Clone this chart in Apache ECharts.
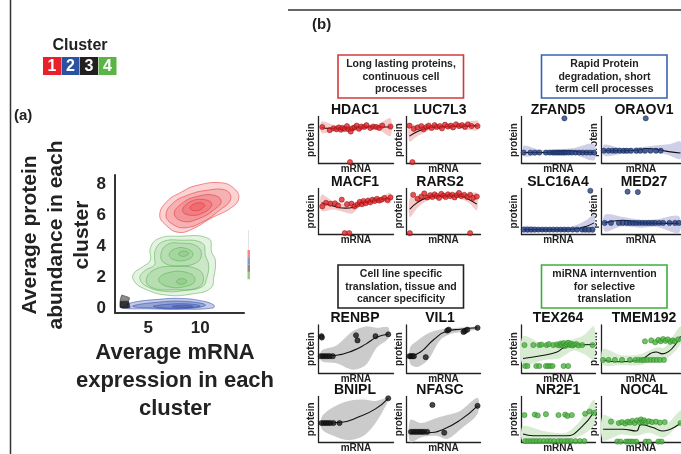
<!DOCTYPE html>
<html>
<head>
<meta charset="utf-8">
<script src="https://cdn.jsdelivr.net/npm/echarts@6.0.0/dist/echarts.min.js"></script>
<style>
  html, body { margin: 0; padding: 0; background: #fff; }
  #chart { width: 681px; height: 454px; }
</style>
</head>
<body>
<div id="chart"></div>
<script>
// ---------- panel (a): density contours, rings from outer to inner ----------
const clusterNames = ['1', '2', '3', '4']
const aTicksY = [0, 2, 4, 6, 8]
const aTicksX = [5, 10]

const redRings = [
  [[6.1,6.0],[6.8,6.9],[8.2,7.5],[9.5,7.9],[12.0,8.1],[13.3,7.7],[13.7,7.1],[13.0,6.5],[11.0,5.8],[9.2,5.1],[7.9,4.9],[6.8,5.3]],
  [[6.7,6.0],[7.4,6.8],[8.8,7.3],[10.5,7.6],[12.5,7.6],[12.9,7.0],[11.8,6.3],[10.3,5.6],[8.6,5.2],[7.4,5.4]],
  [[7.5,6.1],[8.3,6.8],[9.6,7.2],[11.3,7.3],[12.0,6.9],[11.2,6.3],[9.9,5.8],[8.4,5.6]],
  [[8.3,6.3],[9.1,6.9],[10.5,7.0],[11.1,6.7],[10.4,6.2],[9.1,6.0]],
  [[9.0,6.5],[9.7,6.8],[10.4,6.7],[10.1,6.4],[9.4,6.3]]
]
const greenRings = [
  [[5.2,3.9],[6.0,4.5],[7.8,4.65],[10.8,4.5],[11.1,3.6],[11.45,3.1],[11.3,2.0],[11.0,1.3],[9.4,0.95],[6.8,0.85],[4.5,1.3],[3.6,1.8],[3.6,2.25],[4.5,2.7],[5.2,3.1]],
  [[5.7,3.8],[6.4,4.3],[8.0,4.4],[10.2,4.2],[10.5,3.4],[10.8,2.8],[10.6,1.9],[10.2,1.4],[8.5,1.15],[6.5,1.1],[4.9,1.4],[4.2,1.9],[4.6,2.4],[5.6,2.8],[5.6,3.2]],
  [[6.2,3.4],[6.8,4.1],[8.2,4.2],[9.7,4.0],[10.1,3.4],[9.5,2.9],[8.0,2.75],[6.6,2.9]],
  [[4.8,1.8],[5.6,2.5],[7.5,2.7],[9.8,2.5],[10.3,1.8],[9.6,1.3],[7.5,1.2],[5.5,1.3]],
  [[7.0,3.45],[7.6,3.85],[8.7,3.85],[9.3,3.5],[8.8,3.15],[7.6,3.1]],
  [[6.0,1.85],[6.9,2.3],[8.8,2.3],[9.5,1.85],[8.8,1.45],[6.9,1.4]],
  [[7.9,3.5],[8.4,3.7],[8.9,3.55],[8.4,3.35]],
  [[7.7,1.72],[8.2,1.92],[8.7,1.75],[8.2,1.55]]
]
const blueRings = [
  [[2.5,0.1],[3.5,0.38],[6,0.58],[8,0.64],[10,0.5],[11.3,0.22],[11.2,0.02],[8,-0.06],[5,-0.03],[2.5,0.0]],
  [[3.5,0.15],[6,0.4],[8.5,0.45],[10.5,0.22],[9,0.0],[5,0.03]],
  [[5.5,0.15],[8.3,0.3],[10,0.15],[8.5,0.03],[6,0.05]],
  [[7.3,0.12],[8.5,0.2],[9.3,0.12],[8.5,0.06]]
]
const blackRings = [
  [[2.3,0.05],[2.3,0.5],[2.45,0.85],[3.2,0.68],[3.1,0.45],[3.25,0.05]],
  [[2.33,0.06],[2.33,0.45],[3.08,0.45],[3.12,0.06]],
  [[2.36,0.08],[2.36,0.38],[3.02,0.38],[3.05,0.08]]
]

// ---------- panel (b): group captions and gene panels ----------
const groupTexts = [
  'Long lasting proteins,\ncontinuous cell\nprocesses',
  'Rapid Protein\ndegradation, short\nterm cell processes',
  'Cell line specific\ntranslation, tissue and\ncancer specificity',
  'miRNA internvention\nfor selective\ntranslation'
]

// points [mRNA, protein], fit [x, y], band [x, low, high]  (0..10 units)
const hdac1Pts = [[0.5,8.0],[1.5,7.3],[2.0,7.7],[2.4,7.5],[2.7,7.9],[3.0,7.4],[3.2,7.8],[3.5,7.6],[3.8,8.2],[4.0,7.5],[4.3,7.0],[4.5,7.7],[4.8,7.9],[5.1,8.3],[5.4,7.6],[5.7,8.1],[6.1,8.0],[6.4,8.4],[6.9,7.8],[7.3,8.1],[7.7,8.0],[8.1,7.8],[8.5,8.3],[9.6,8.1],[4.2,0.3]]
const hdac1Fit = [[0.4,7.9],[1.5,7.7],[3,7.7],[4.3,7.5],[5.3,7.9],[6.5,8.0],[8,8.0],[9.6,8.0]]
const hdac1Band = [[0.4,6.7,9.2],[2,7.1,8.5],[4.3,7.0,8.1],[6,7.5,8.4],[8,7.4,8.7],[9.6,6.0,9.9]]

const luc7l3Pts = [[0.4,8.3],[1.0,7.6],[1.5,7.9],[2.0,8.2],[2.3,7.5],[2.7,8.0],[3.0,8.3],[3.4,7.8],[3.8,8.4],[4.1,8.0],[4.5,8.2],[4.8,7.7],[5.2,8.5],[5.6,8.1],[6.0,8.3],[6.3,7.9],[6.7,8.6],[7.1,8.2],[7.5,8.4],[7.9,8.0],[8.3,8.6],[8.8,8.2],[9.6,8.2],[0.8,0.3]]
const luc7l3Fit = [[0.4,6.0],[1.5,7.0],[2.7,7.7],[4,8.0],[6,8.1],[8,8.2],[9.6,8.3]]
const luc7l3Band = [[0.4,4.8,8.8],[1.5,6.0,8.2],[3,7.2,8.3],[5,7.7,8.5],[7,7.8,8.6],[9.6,7.3,9.4]]

const macf1Pts = [[0.5,6.3],[1.0,7.1],[1.6,6.9],[2.2,7.0],[2.6,6.5],[3.1,7.8],[3.8,6.8],[4.4,6.9],[4.8,6.3],[5.2,6.7],[5.5,7.3],[5.8,6.8],[6.0,7.5],[6.3,7.0],[6.6,7.6],[6.9,7.2],[7.2,7.8],[7.5,7.5],[7.8,8.0],[8.1,7.6],[8.4,7.8],[8.8,8.2],[9.2,7.7],[9.6,8.3],[3.5,0.3],[4.1,0.3]]
const macf1Fit = [[0.4,7.1],[1.5,6.6],[2.8,6.0],[3.6,5.9],[4.7,6.1],[5.6,6.9],[6.5,7.3],[8,7.8],[9.6,8.1]]
const macf1Band = [[0.4,5.3,8.9],[2,5.6,7.4],[3.5,5.0,6.8],[4.5,4.7,6.9],[5.5,6.2,7.6],[7,6.9,8.0],[8.5,7.3,8.5],[9.6,7.0,9.3]]

const rars2Pts = [[0.9,8.9],[1.5,8.0],[2.0,8.5],[2.4,9.2],[2.8,8.3],[3.2,8.8],[3.5,8.4],[3.8,9.0],[4.1,8.6],[4.4,8.2],[4.7,9.1],[5.0,8.7],[5.3,8.4],[5.6,9.0],[5.9,8.6],[6.2,8.9],[6.5,8.3],[6.8,8.8],[7.1,9.3],[7.4,8.6],[7.8,8.9],[8.2,8.4],[8.6,8.9],[9.0,8.2],[9.5,8.5],[0.45,0.3],[8.6,0.3]]
const rars2Fit = [[0.45,5.7],[1.5,7.2],[2.7,8.2],[4,8.6],[5.9,8.7],[7.3,8.6],[8.5,7.8],[9.5,6.8]]
const rars2Band = [[0.45,3.9,8.2],[1.5,6.0,8.5],[3,7.7,8.9],[5,8.3,9.1],[7,8.2,9.1],[8.5,7.0,9.2],[9.5,5.4,9.3]]

const zfand5Pts = [[0.3,2.4],[1.2,2.4],[1.8,2.4],[2.4,2.4],[3.3,2.4],[3.8,2.4],[4.2,2.4],[4.5,2.4],[4.8,2.4],[5.1,2.4],[5.4,2.4],[5.7,2.4],[6.0,2.4],[6.4,2.4],[6.8,2.4],[7.3,2.4],[7.8,2.4],[8.3,2.4],[8.8,2.4],[9.3,2.4],[9.8,2.4],[5.8,9.9]]
const zfand5Fit = [[0.3,2.4],[2,2.4],[4,2.45],[5.5,2.7],[6.5,2.8],[8,2.5],[9.8,2.4]]
const zfand5Band = [[0.3,1.6,3.9],[2.5,1.9,3.0],[5,2.0,3.1],[7,2.0,3.4],[9.8,0.7,4.3]]

const oraov1Pts = [[0.3,2.8],[0.9,2.8],[1.4,2.8],[1.8,2.8],[2.3,2.8],[2.8,2.8],[3.2,2.8],[3.7,2.8],[4.4,2.8],[4.9,2.8],[5.5,2.8],[6.2,2.8],[6.9,2.8],[7.5,2.8],[5.6,9.9]]
const oraov1Fit = [[0.3,2.8],[2.5,2.8],[4.5,2.9],[5.8,3.3],[7,3.1],[8.5,2.6],[10,2.3]]
const oraov1Band = [[0.3,1.7,4.1],[2.5,2.1,3.4],[5,2.2,3.6],[7,2.4,4.0],[8.5,1.8,4.2],[10,1.0,4.8]]

const slc16a4Pts = [[0.3,1.1],[0.8,1.1],[1.3,1.1],[1.8,1.1],[2.3,1.1],[2.8,1.1],[3.3,1.1],[3.8,1.1],[4.3,1.1],[4.8,1.1],[5.3,1.1],[5.8,1.1],[6.3,1.1],[6.9,1.1],[7.5,1.1],[8.2,1.1],[8.6,1.1],[9.1,1.1],[9.6,1.1],[9.3,9.8]]
const slc16a4Fit = [[0.3,1.1],[3,1.1],[6,1.1],[7.5,1.3],[8.7,1.8],[9.8,2.6]]
const slc16a4Band = [[0.3,0.4,1.9],[3,0.6,1.5],[6,0.6,1.6],[7.5,0.5,2.2],[8.7,0.4,3.2],[9.8,0.4,4.4]]

const med27Pts = [[0.4,2.6],[1.2,2.6],[2.2,2.6],[2.7,2.6],[3.2,2.6],[3.6,2.6],[4.0,2.6],[4.4,2.6],[4.8,2.6],[5.2,2.6],[5.6,2.6],[6.0,2.6],[6.4,2.6],[6.8,2.6],[7.3,2.6],[7.8,2.6],[8.6,2.6],[9.3,2.6],[9.8,2.6],[3.3,9.6],[4.6,9.5]]
const med27Fit = [[0.4,2.6],[1.5,3.0],[2.7,3.2],[4,2.9],[5,2.6],[7,2.5],[9.8,2.5]]
const med27Band = [[0.4,0.7,4.4],[2.5,1.8,4.0],[5,1.5,3.3],[7,1.7,3.4],[9.8,0.4,4.1]]

const renbpPts = [[0.4,7.9],[0.45,7.6],[0.3,3.6],[0.6,3.6],[0.9,3.6],[1.2,3.6],[1.5,3.6],[1.9,3.6],[5.0,8.1],[5.2,7.0],[7.6,7.9],[9.3,8.3]]
const renbpFit = [[0.4,3.6],[2.4,3.8],[4.6,4.8],[6.3,6.2],[7.8,7.7],[9.3,8.3]]
const renbpBand = [[0.4,2.6,4.8],[2.4,2.1,5.9],[4.6,0.7,9.0],[6.3,1.7,10],[7.8,5.5,9.7],[9.3,7.4,9.8]]

const vil1Pts = [[0.4,3.6],[0.6,3.6],[0.8,3.6],[1.0,3.6],[2.6,3.4],[5.5,9.1],[5.7,9.3],[7.7,8.8],[7.9,9.0],[8.2,9.3],[9.6,9.7]]
const vil1Fit = [[0.5,3.6],[1.9,4.5],[3.7,7.2],[5.5,9.0],[7.3,9.4],[9.6,9.7]]
const vil1Band = [[0.5,2.0,5.5],[1.5,1.3,7.0],[3,3.0,8.6],[4.5,7.0,9.3],[6,8.4,9.6],[8,8.9,9.8],[9.6,9.4,9.9]]

const bniplPts = [[0.4,4.3],[0.7,4.3],[1.0,4.3],[1.3,4.3],[1.6,4.3],[2.0,4.3],[2.8,4.3],[9.3,9.9]]
const bniplFit = [[0.45,4.3],[2.8,4.4],[5.4,5.7],[7.6,7.5],[9.3,9.9]]
const bniplBand = [[0.45,2.9,5.7],[2,1.4,7.9],[4,0.4,9.3],[6,1.4,9.6],[7.6,4.3,9.3],[9.3,9.3,10]]

const nfascPts = [[0.6,2.3],[0.9,2.3],[1.2,2.3],[1.5,2.3],[1.8,2.3],[2.1,2.3],[2.4,2.3],[2.8,2.3],[3.5,8.4],[5.1,2.1],[9.6,8.2]]
const nfascFit = [[0.5,2.1],[2.8,2.1],[5,2.9],[7.3,5.0],[9.6,8.2]]
const nfascBand = [[0.5,0,5],[2,1.1,4.3],[4,1.4,5.4],[5.5,0.7,6.1],[7.3,2.9,7.1],[9.6,6.4,10]]

const tex264Pts = [[0.4,6.0],[1.6,6.0],[2.4,6.0],[2.7,6.1],[3.4,6.0],[3.7,6.2],[4.3,6.0],[4.8,6.1],[5.1,5.9],[5.3,6.3],[5.5,6.0],[5.7,6.4],[5.9,5.8],[6.1,6.2],[6.3,6.5],[6.5,6.0],[6.7,6.3],[6.9,5.9],[7.1,6.1],[7.4,6.2],[7.7,5.9],[8.2,6.0],[9.6,6.0],
  [0.5,1.5],[0.8,1.5],[2.0,1.5],[2.4,1.5],[3.3,1.5],[3.6,1.5],[3.9,1.5],[4.2,1.5],[5.7,1.5],[6.3,1.5]]
const tex264Fit = [[0.2,3.1],[3,3.8],[4.8,4.5],[5.7,5.4],[7,5.9],[9.8,6.1]]
const tex264Band = [[0.2,1.7,7.9],[3,2.8,6.2],[5,3.1,6.9],[7,4.8,7.2],[8.5,4.0,8.2],[9.8,2.8,10]]

const tmem192Pts = [[5.5,6.8],[6.3,7.0],[6.8,6.6],[7.2,7.1],[7.5,6.8],[7.8,7.3],[8.1,6.9],[8.4,7.2],[8.7,6.7],[9.0,7.0],[9.3,6.8],[9.7,7.2],
  [0.2,2.8],[0.9,2.8],[1.7,2.8],[2.6,2.8],[3.6,2.8],[4.3,2.8],[4.7,2.8],[5.1,2.8],[5.4,2.8],[5.8,2.8],[6.2,2.8],[6.6,2.8],[7.0,2.8],[7.4,2.8],[7.9,2.8]]
const tmem192Fit = [[0.2,2.8],[2.3,2.4],[4.8,2.8],[6.9,4.5],[7.7,4.1],[10,7.9]]
const tmem192Band = [[0.2,1.7,5.2],[2.5,1.7,3.8],[5,1.7,4.1],[7,3.1,5.5],[8,2.8,5.5],[10,6.2,10]]

const nr2f1Pts = [[0.4,6.1],[1.8,6.2],[2.2,6.0],[3.3,6.3],[5.0,6.1],[5.9,6.2],[6.2,5.9],[6.8,6.1],[8.6,6.4],[9.2,6.9],[9.8,6.6],
  [0.5,0.2],[0.9,0.2],[1.3,0.2],[1.7,0.2],[2.1,0.2],[2.5,0.2],[3.0,0.2],[3.5,0.2],[3.9,0.2],[4.4,0.2],[5.0,0.2],[5.4,0.2],[5.9,0.2],[6.3,0.2],[6.7,0.2],[7.3,0.2],[7.9,0.2],[8.5,0.2]]
const nr2f1Fit = [[0.2,1.8],[1.6,1.4],[4,1.4],[6.1,1.4],[8,3.2],[9.8,6.8]]
const nr2f1Band = [[0.2,0,3.6],[3,0.4,2.5],[6,0.4,2.1],[8,1.4,5],[9.8,3.9,9.6]]

const noc4lPts = [[1.2,4.6],[2.2,4.3],[2.6,4.5],[3.0,4.2],[3.3,4.6],[3.6,4.4],[3.9,4.8],[4.2,4.3],[4.5,4.9],[4.8,4.5],[5.0,5.1],[5.2,4.6],[5.4,4.9],[5.6,4.4],[6.0,4.7],[6.4,4.5],[6.9,4.6],[7.4,4.4],[8.0,4.5],[10,4.3],
  [2.0,0.1],[2.4,0.1],[3.1,0.1],[3.4,0.1],[3.7,0.1],[4.0,0.1],[4.4,0.1],[5.6,0.1],[6.0,0.1],[7.2,0.1],[7.6,0.1]]
const noc4lFit = [[0.2,2.9],[2.7,2.9],[4.4,2.5],[5,3.9],[6.5,3.3],[7.7,2.5],[10,4.3]]
const noc4lBand = [[0.2,0.4,6.0],[2.5,1.7,4.4],[4.4,1.4,4.3],[6,2.1,5.4],[8,1.1,3.9],[10,5,7.1]]

const geneNames = ['HDAC1','LUC7L3','ZFAND5','ORAOV1','MACF1','RARS2','SLC16A4','MED27','RENBP','VIL1','TEX264','TMEM192','BNIPL','NFASC','NR2F1','NOC4L']
const panelPts = [hdac1Pts, luc7l3Pts, zfand5Pts, oraov1Pts, macf1Pts, rars2Pts, slc16a4Pts, med27Pts, renbpPts, vil1Pts, tex264Pts, tmem192Pts, bniplPts, nfascPts, nr2f1Pts, noc4lPts]
const panelFit = [hdac1Fit, luc7l3Fit, zfand5Fit, oraov1Fit, macf1Fit, rars2Fit, slc16a4Fit, med27Fit, renbpFit, vil1Fit, tex264Fit, tmem192Fit, bniplFit, nfascFit, nr2f1Fit, noc4lFit]
const panelBand = [hdac1Band, luc7l3Band, zfand5Band, oraov1Band, macf1Band, rars2Band, slc16a4Band, med27Band, renbpBand, vil1Band, tex264Band, tmem192Band, bniplBand, nfascBand, nr2f1Band, noc4lBand]

// ---------- layout / style ----------
const FONT = '"Liberation Sans", Arial, sans-serif'
const clusterColors = ['#e8202a', '#2a52a0', '#231f20', '#5cb346']
// group order: red (top-left), blue (top-right), black (bottom-left), green (bottom-right)
const groupStyle = [
  { box: '#d23b3b', pt: '#e3262b', edge: '#7a0c0c', band: '#f7c9c9' },
  { box: '#3a62b0', pt: '#23407f', edge: '#0f1f4a', band: '#cfcfea' },
  { box: '#222222', pt: '#1a1a1a', edge: '#000000', band: '#cbcbcb' },
  { box: '#3fae3f', pt: '#4cb540', edge: '#2b7a25', band: '#d8ecd2' }
]
const colLeft = [318.5, 406.5, 521.5, 601.5]
const colWidth = [75, 74, 74, 79]
const colTitleX = [355, 440, 558, 644]
const rowTop = [116.5, 188.5, 325, 396.5]
const rowHeight = [47, 46, 48, 47]
const groupBoxes = [[338, 55], [541.5, 55], [338, 265], [541.5, 265]]

const chart = echarts.init(document.getElementById('chart'), null, { renderer: 'canvas' })

const grids = [{ left: 115, top: 175, width: 129, height: 138 }]
const xAxes = [{
  type: 'value', gridIndex: 0, min: 1.8, max: 14.2,
  axisLine: { onZero: false, lineStyle: { color: '#333', width: 2 } },
  axisTick: { show: false }, splitLine: { show: false },
  axisLabel: { customValues: aTicksX, margin: 7, fontSize: 17, fontWeight: 'bold', color: '#222', fontFamily: FONT }
}]
const yAxes = [{
  type: 'value', gridIndex: 0, min: -0.3, max: 8.6,
  axisLine: { onZero: false, lineStyle: { color: '#333', width: 2 } },
  axisTick: { show: false }, splitLine: { show: false },
  axisLabel: { customValues: aTicksY, margin: 9, fontSize: 17, fontWeight: 'bold', color: '#222', fontFamily: FONT }
}]

function contourSeries(rings, rgb, alpha, smooth) {
  return {
    type: 'custom', xAxisIndex: 0, yAxisIndex: 0, silent: true, z: 2,
    data: rings.map(r => r[0]),
    renderItem: (params, api) => ({
      type: 'polygon',
      shape: { points: rings[params.dataIndex].map(p => api.coord(p)), smooth: smooth },
      style: { fill: `rgba(${rgb},${alpha})`, stroke: `rgba(${rgb},0.75)`, lineWidth: 0.7 }
    })
  }
}

const series = [
  contourSeries(redRings, '232,40,45', 0.2, 0.45),
  contourSeries(greenRings, '80,175,70', 0.16, 0.45),
  contourSeries(blueRings, '40,70,170', 0.28, 0.45),
  contourSeries(blackRings, '25,25,25', 0.5, 0.1)
]

const graphics = []

geneNames.forEach((name, i) => {
  const r = Math.floor(i / 4), c = i % 4
  const g = (r >= 2 ? 2 : 0) + (c >= 2 ? 1 : 0)
  const st = groupStyle[g]
  const idx = i + 1
  grids.push({ left: colLeft[c], top: rowTop[r], width: colWidth[c], height: rowHeight[r] })
  xAxes.push({
    type: 'value', gridIndex: idx, min: 0, max: 10,
    axisLine: { onZero: false, lineStyle: { color: '#222', width: 1.3 } },
    axisTick: { show: false }, axisLabel: { show: false }, splitLine: { show: false },
    name: 'mRNA', nameLocation: 'middle', nameGap: 1,
    nameTextStyle: { fontSize: 10, fontWeight: 'bold', color: '#222', fontFamily: FONT, verticalAlign: 'top' }
  })
  yAxes.push({
    type: 'value', gridIndex: idx, min: 0, max: 10.3,
    axisLine: { onZero: false, lineStyle: { color: '#222', width: 1.3 } },
    axisTick: { show: false }, axisLabel: { show: false }, splitLine: { show: false },
    name: 'protein', nameLocation: 'middle', nameGap: 2,
    nameTextStyle: { fontSize: 10, fontWeight: 'bold', color: '#222', fontFamily: FONT }
  })
  const band = panelBand[i]
  series.push({
    type: 'custom', xAxisIndex: idx, yAxisIndex: idx, silent: true, z: 1,
    data: [[band[0][0], band[0][1]]],
    renderItem: (params, api) => {
      const top = band.map(b => api.coord([b[0], b[2]]))
      const bot = band.slice().reverse().map(b => api.coord([b[0], b[1]]))
      return { type: 'polygon', shape: { points: top.concat(bot), smooth: 0.3 }, style: { fill: st.band } }
    }
  })
  series.push({
    type: 'line', xAxisIndex: idx, yAxisIndex: idx, data: panelFit[i], smooth: 0.5,
    showSymbol: false, silent: true, z: 3, lineStyle: { color: '#111', width: 1.1 }
  })
  series.push({
    type: 'scatter', xAxisIndex: idx, yAxisIndex: idx, data: panelPts[i], symbolSize: 5.2,
    silent: true, z: 4, clip: false,
    itemStyle: { color: st.pt, borderColor: st.edge, borderWidth: 0.6 }
  })
  graphics.push({
    type: 'text', x: colTitleX[c], y: rowTop[r] - 6.5, z: 10,
    style: { text: name, font: `bold 14px ${FONT}`, fill: '#111', textAlign: 'center', textVerticalAlign: 'middle' }
  })
})

groupTexts.forEach((t, g) => {
  const [bx, by] = groupBoxes[g]
  graphics.push({
    type: 'rect', shape: { x: bx, y: by, width: 125.5, height: 43 }, z: 10,
    style: { fill: '#fff', stroke: groupStyle[g].box, lineWidth: 1.6 }
  })
  graphics.push({
    type: 'text', x: bx + 63, y: by + 22, z: 11,
    style: { text: t, font: `bold 10.5px ${FONT}`, lineHeight: 12.6, fill: '#222', textAlign: 'center', textVerticalAlign: 'middle' }
  })
})

// frame lines and panel labels
graphics.push(
  { type: 'line', shape: { x1: 10.5, y1: 0, x2: 10.5, y2: 454 }, style: { stroke: '#333', lineWidth: 1.5 } },
  { type: 'line', shape: { x1: 288, y1: 10, x2: 681, y2: 10 }, style: { stroke: '#333', lineWidth: 1.5 } },
  { type: 'text', x: 14, y: 116, style: { text: '(a)', font: `bold 15px ${FONT}`, fill: '#222', textVerticalAlign: 'middle' } },
  { type: 'text', x: 312, y: 25, style: { text: '(b)', font: `bold 15px ${FONT}`, fill: '#222', textVerticalAlign: 'middle' } },
  { type: 'text', x: 80, y: 46, style: { text: 'Cluster', font: `bold 16px ${FONT}`, fill: '#222', textAlign: 'center', textVerticalAlign: 'middle' } },
  { type: 'text', x: 56, y: 235, rotation: Math.PI / 2,
    style: { text: 'Average protein\nabundance in each\ncluster', font: `bold 21px ${FONT}`, lineHeight: 26, fill: '#222', textAlign: 'center', textVerticalAlign: 'middle' } },
  { type: 'text', x: 175, y: 381,
    style: { text: 'Average mRNA\nexpression in each\ncluster', font: `bold 22px ${FONT}`, lineHeight: 28, fill: '#222', textAlign: 'center', textVerticalAlign: 'middle' } }
)

clusterNames.forEach((n, k) => {
  graphics.push({
    type: 'rect', shape: { x: 43 + k * 18.5, y: 57, width: 18, height: 18 },
    style: { fill: clusterColors[k] }
  })
  graphics.push({
    type: 'text', x: 43 + k * 18.5 + 9, y: 66.5,
    style: { text: n, font: `bold 16px ${FONT}`, fill: '#fff', textAlign: 'center', textVerticalAlign: 'middle' }
  })
})

// clipped legend strip at the right of panel (a)
const stripColors = ['#f08a8a', '#7c9ad0', '#8a8a8a', '#94cc84']
graphics.push({ type: 'line', shape: { x1: 248.5, y1: 230, x2: 248.5, y2: 250 }, style: { stroke: '#e4e4e4', lineWidth: 1 } })
stripColors.forEach((col, k) => {
  graphics.push({ type: 'rect', shape: { x: 247.5, y: 250 + k * 7.3, width: 2.5, height: 7.3 }, style: { fill: col } })
})

chart.setOption({
  animation: false,
  backgroundColor: '#fff',
  grid: grids,
  xAxis: xAxes,
  yAxis: yAxes,
  series: series,
  graphic: graphics
})
</script>
</body>
</html>
